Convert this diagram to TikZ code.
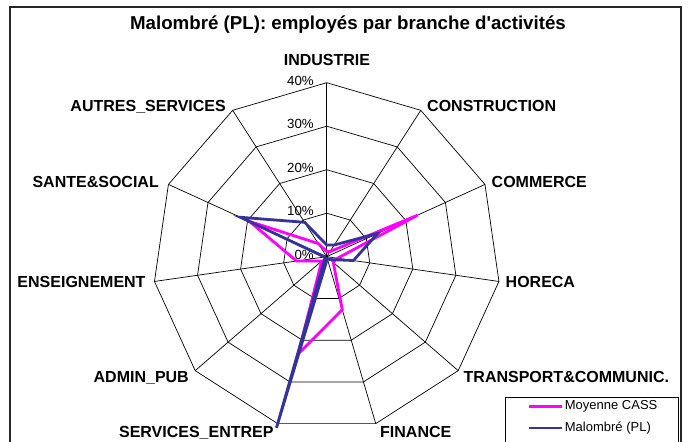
\documentclass[tikz,border=0pt]{standalone}
\usepackage{fontspec}
\setmainfont{Liberation Sans}[Ligatures=TeXOff]
\definecolor{cassmagenta}{RGB}{255,0,255}
\definecolor{malblue}{RGB}{51,51,153}
\tikzset{
    gridline/.style={black, line width=0.7pt},
    axislabel/.style={inner sep=0pt, font=\fontsize{16}{18}\selectfont\bfseries},
    pctlabel/.style={inner sep=0pt, anchor=base east, font=\fontsize{13.3}{15}\selectfont},
    serieline/.style={line width=2.8pt, line join=miter},
}
\begin{document}
\begin{tikzpicture}[x=1pt,y=1pt]
    \useasboundingbox (0,0) rectangle (692,441);
    \clip (0,0) rectangle (692,441);
    \fill[white] (0,0) rectangle (692,441);

    % frame and title
    \draw[line width=1.3pt, black!85] (10,-5) rectangle (681,434);
    \node[inner sep=0pt, anchor=base, font=\fontsize{18.7}{21}\selectfont\bfseries] (title) at (348,411)
        {Malombré (PL): employés par branche d'activités};

    \begin{scope}[shift={(326.7,184.3)}]
        % rings and spokes
        \foreach \k in {1,...,4}
            \draw[gridline] (90:\k*43.5pt) \foreach \i in {1,...,10} { -- ({90-\i*360/11}:\k*43.5pt) } -- cycle;
        \foreach \i in {0,...,10}
            \draw[gridline] (0,0) -- ({90-\i*360/11}:174pt);

        % percent scale
        \foreach \k in {0,...,4}
            \node[pctlabel] (pct\k) at (-12.7,\k*43.5-2.75) {\the\numexpr\k*10\relax\%};

        % series
        \foreach \v [count=\i from 0] in {1.2,1.4,23,2.5,2,12.7,23.3,1.5,7,19.5,3.6}
            \coordinate (m\i) at ({90-\i*360/11}:\v*4.35pt);
        \foreach \v [count=\i from 0] in {2.7,3.2,12.9,6.2,1,0.5,41,0.5,0.5,21.8,9.4}
            \coordinate (b\i) at ({90-\i*360/11}:\v*4.35pt);
        \draw[serieline, cassmagenta] (m0) -- (m1) -- (m2) -- (m3) -- (m4) -- (m5) -- (m6)
            -- (m7) -- (m8) -- (m9) -- (m10) -- cycle;
        \draw[serieline, malblue] (b0) -- (b1) -- (b2) -- (b3) -- (b4) -- (b5) -- (b6)
            -- (b7) -- (b8) -- (b9) -- (b10) -- cycle;
    \end{scope}

    % branch names
    \node[axislabel, anchor=base] (industrie) at (327,375.2) {INDUSTRIE};
    \node[axislabel, anchor=base west] (construction) at (427,329.2) {CONSTRUCTION};
    \node[axislabel, anchor=base west] (commerce) at (491.5,253.2) {COMMERCE};
    \node[axislabel, anchor=base west] (horeca) at (505.5,153.2) {HORECA};
    \node[axislabel, anchor=base west] (transport) at (463.5,58.2) {TRANSPORT\&COMMUNIC.};
    \node[axislabel, anchor=base west] (finance) at (380,3.2) {FINANCE};
    \node[axislabel, anchor=base east] (services) at (273.7,3.2) {SERVICES\_ENTREP};
    \node[axislabel, anchor=base east] (adminpub) at (189,58.2) {ADMIN\_PUB};
    \node[axislabel, anchor=base east] (enseignement) at (145.7,153.2) {ENSEIGNEMENT};
    \node[axislabel, anchor=base east] (sante) at (159,253.2) {SANTE\&SOCIAL};
    \node[axislabel, anchor=base east] (autres) at (226,329.2) {AUTRES\_SERVICES};

    % legend
    \draw[line width=0.8pt] (505,-5) rectangle (678,44);
    \coordinate (legm) at (529,34.3);
    \coordinate (legb) at (529,13);
    \draw[serieline, cassmagenta] (legm) -- ++(33,0) node[right, inner sep=1.5pt, text=black, font=\fontsize{13}{15}\selectfont] (legmtext) {Moyenne CASS};
    \draw[serieline, malblue] (legb) -- ++(33,0) node[right, inner sep=1.5pt, text=black, font=\fontsize{13}{15}\selectfont] (legbtext) {Malombré (PL)};
\end{tikzpicture}
\end{document}
